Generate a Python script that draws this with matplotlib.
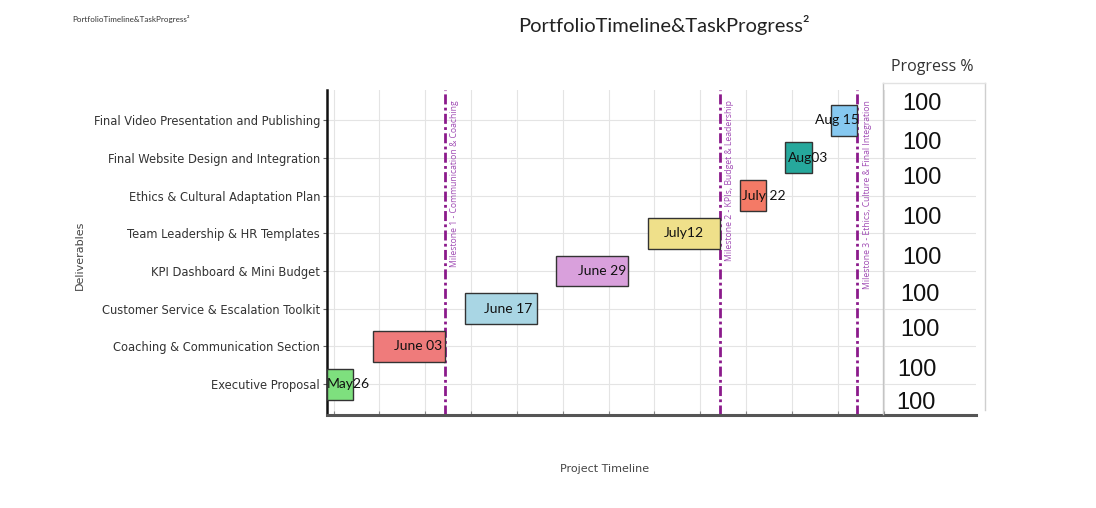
import matplotlib

matplotlib.use("Agg")
import matplotlib.pyplot as plt
from matplotlib.lines import Line2D

# deliverables, bottom row first
deliverables = [
    "Executive Proposal",
    "Coaching & Communication Section",
    "Customer Service & Escalation Toolkit",
    "KPI Dashboard & Mini Budget",
    "Team Leadership & HR Templates",
    "Ethics & Cultural Adaptation Plan",
    "Final Website Design and Integration",
    "Final Video Presentation and Publishing",
]
start_day = [-1, 6, 20, 34, 48, 62, 69, 76]
duration = [4, 11, 11, 11, 11, 4, 4, 4]
due_labels = ["May26", "June 03", "June 17", "June 29", "July12", "July 22", "Aug03", "Aug 15"]
bar_colors = ["#7ee07e", "#ef7b7b", "#a9d6e4", "#d9a0dc", "#efe08a", "#f47a66", "#26a89c", "#86c8f0"]

milestone_day = [17, 59, 80]
milestone_text = [
    "Milestone 1 - Communication & Coaching",
    "Milestone 2 - KPIs, Budget & Leadership",
    "Milestone 3 - Ethics, Culture & Final Integration",
]

progress = [100, 100, 100, 100, 100, 100, 100, 100, 100]

# layout only
label_nudge = [1.3, 1.4, 1.1, 1.5, 0.0, 1.7, 1.4, -1.1]
progress_y = [7.43, 6.39, 5.46, 4.40, 3.34, 2.36, 1.43, 0.37, -0.50]
progress_x = [89.8, 89.8, 89.9, 89.8, 89.8, 89.6, 89.5, 89.1, 89.0]

W, H = 1096, 508
fig = plt.figure(figsize=(W / 100, H / 100), dpi=100)
ax = fig.add_axes([327 / W, 1 - 415 / H, (976 - 327) / W, (415 - 90) / H])

rows = list(range(len(deliverables)))
ax.barh(rows, duration, left=start_day, height=0.82, color=bar_colors,
        edgecolor="#333333", linewidth=1.0, zorder=3)

for y, s, d, lab, dx in zip(rows, start_day, duration, due_labels, label_nudge):
    ax.text(s + d / 2 + dx, y, lab, ha="center", va="center", fontsize=10,
            family="Lato", color="#111111", zorder=4)

for md, mt in zip(milestone_day, milestone_text):
    ax.axvline(md, color="#8b1a8b", lw=2, linestyle=(0, (3.6, 1.2, 1, 1.2)), zorder=2)
    ax.text(md + 1.5, 7.53, mt, rotation=90, ha="center", va="top", fontsize=6.2,
            family="Open Sans", color="#a04cb4", zorder=4)

for px, py, v in zip(progress_x, progress_y, progress):
    ax.text(px, py, str(v), ha="center", va="center", fontsize=17,
            family="Liberation Sans", color="#111111", zorder=5)

ax.set_xlim(-1, 98.1)
ax.set_ylim(-0.82, 7.8)
ax.set_xticks(range(0, 85, 7))
ax.set_xticklabels([])
ax.set_yticks(rows)
ax.set_yticklabels(deliverables, fontsize=8.3, color="#333333")
ax.tick_params(axis="x", direction="in", length=3, color="#888888")
ax.tick_params(axis="y", length=3, pad=2, color="#666666")
ax.grid(True, color="#e4e4e4", lw=0.8, zorder=0)
ax.set_axisbelow(True)
for side in ("top", "right"):
    ax.spines[side].set_visible(False)
ax.spines["left"].set_color("#111111")
ax.spines["left"].set_linewidth(1.8)
ax.spines["bottom"].set_color("#555555")
ax.spines["bottom"].set_linewidth(2.2)

ax.set_xlabel("Project Timeline", fontsize=8, color="#444444")
ax.xaxis.set_label_coords(0.428, -0.15)
ax.set_ylabel("Deliverables", fontsize=8, color="#444444")
ax.yaxis.set_label_coords(-0.373, 0.49)

# progress column frame
def fline(x0, y0, x1, y1, color):
    fig.add_artist(Line2D([x0 / W, x1 / W], [1 - y0 / H, 1 - y1 / H],
                          color=color, lw=1.0, transform=fig.transFigure))

fline(883, 83, 883, 414, "#c4c4c4")
fline(985, 83, 985, 410, "#cfcfcf")
fline(883, 83, 985, 83, "#e2e2e2")

fig.text(932 / W, 1 - 67 / H, "Progress %", ha="center", va="center",
         fontsize=11.5, family="Open Sans", color="#333333")
fig.text(664 / W, 1 - 25 / H, "PortfolioTimeline&TaskProgress²", ha="center",
         va="center", fontsize=14.5, family="Lato", color="#222222")
fig.text(72 / W, 1 - 19 / H, "PortfolioTimeline&TaskProgress²", ha="left",
         va="center", fontsize=5.8, family="Lato", color="#333333")

fig.savefig("out.png", dpi=100)
